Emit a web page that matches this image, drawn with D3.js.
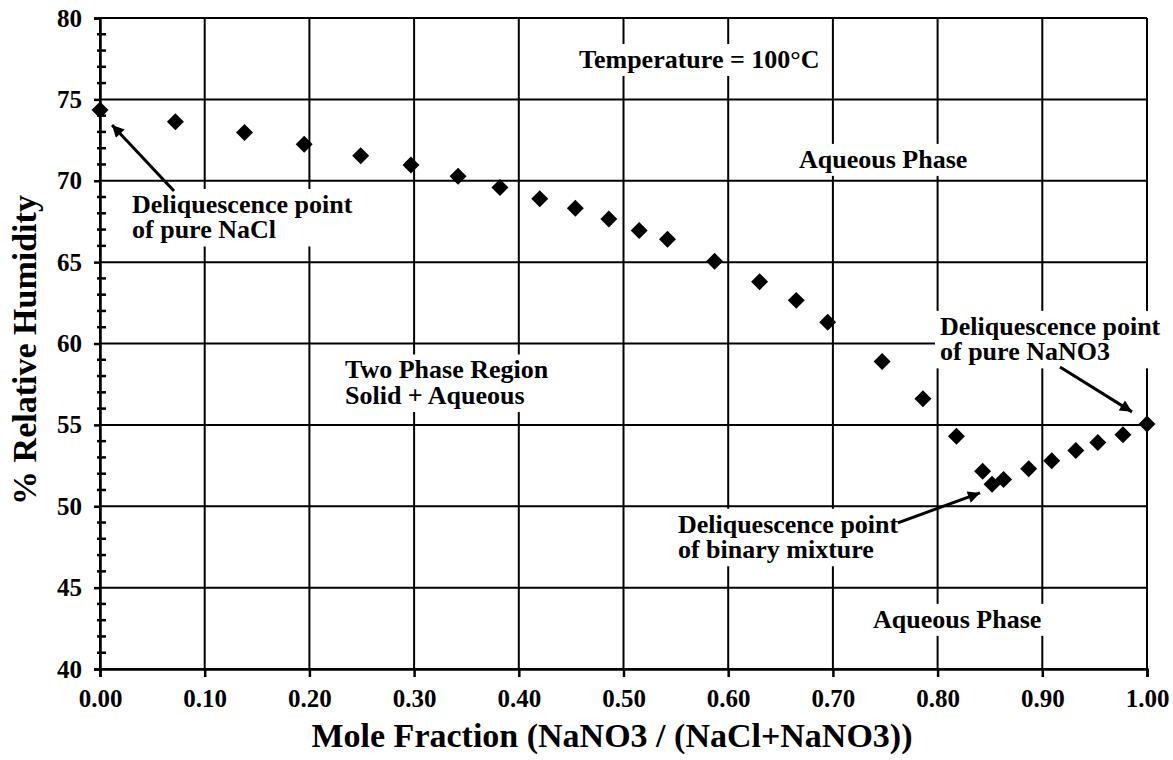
<!DOCTYPE html>
<html><head><meta charset="utf-8">
<script src="https://cdn.jsdelivr.net/npm/d3@7"></script>
<style>
html,body{margin:0;padding:0;background:#fff;}
svg text{font-family:"Liberation Serif","Times New Roman",serif;font-weight:bold;fill:#000;}
</style></head>
<body><svg id="chart" width="1173" height="760"></svg>
<script>
// ---- data ----
const moleFraction = [0.000, 0.072, 0.138, 0.195, 0.249, 0.297, 0.342, 0.382, 0.420, 0.454, 0.486, 0.515, 0.542, 0.587, 0.630, 0.665, 0.695, 0.747, 0.786, 0.818, 0.843, 0.852, 0.863, 0.887, 0.909, 0.932, 0.953, 0.977, 1.000];
const relHumidity  = [74.35, 73.63, 72.96, 72.24, 71.54, 70.97, 70.28, 69.58, 68.90, 68.31, 67.65, 66.94, 66.40, 65.05, 63.80, 62.65, 61.30, 58.90, 56.60, 54.30, 52.15, 51.35, 51.65, 52.30, 52.80, 53.42, 53.92, 54.40, 55.05];
const xTicks = [0, 0.1, 0.2, 0.3, 0.4, 0.5, 0.6, 0.7, 0.8, 0.9, 1.0];
const yTicks = [40, 45, 50, 55, 60, 65, 70, 75, 80];
const yMinorTicks = d3.range(40, 81, 1).filter(v => v % 5 !== 0);
const xTitle = "Mole Fraction (NaNO3 / (NaCl+NaNO3))";
const yTitle = "% Relative Humidity";
const annotations = [
  {lines: ["Temperature = 100°C"], x: 0.4575, y: 76.93},
  {lines: ["Aqueous Phase"], x: 0.6676, y: 70.79},
  {lines: ["Deliquescence point", "of pure NaCl"], x: 0.0306, y: 68.02},
  {lines: ["Two Phase Region", "Solid + Aqueous"], x: 0.234, y: 57.85},
  {lines: ["Deliquescence point", "of pure NaNO3"], x: 0.8023, y: 60.53},
  {lines: ["Deliquescence point", "of binary mixture"], x: 0.552, y: 48.37},
  {lines: ["Aqueous Phase"], x: 0.7383, y: 42.53}
];
const arrows = [
  {from: [0.0707, 69.37], to: [0.0115, 73.43]},
  {from: [0.9169, 58.56], to: [0.9857, 55.8]},
  {from: [0.762, 48.98], to: [0.8405, 50.82]}
];

// ---- layout ----
const svg = d3.select("#chart");
const X0 = 100, X1 = 1147, Y0 = 669, Y1 = 18;
const x = d3.scaleLinear().domain([0, 1]).range([X0, X1]);
const y = d3.scaleLinear().domain([40, 80]).range([Y0, Y1]);

// gridlines
const grid = svg.append("g").attr("stroke", "#000").attr("stroke-width", 2);
grid.selectAll("line.h").data(yTicks).join("line")
  .attr("x1", X0).attr("x2", X1).attr("y1", d => y(d)).attr("y2", d => y(d));
grid.selectAll("line.v").data(xTicks).join("line")
  .attr("y1", Y1).attr("y2", Y0).attr("x1", d => x(d)).attr("x2", d => x(d));

// annotations with white boxes
const ann = svg.append("g");
annotations.forEach(a => {
  const g = ann.append("g");
  const t = g.append("text").attr("font-size", 26);
  a.lines.forEach((l, i) => {
    t.append("tspan").attr("x", x(a.x)).attr("y", y(a.y) + i * 25.5).text(l);
  });
  const bb = t.node().getBBox();
  g.insert("rect", "text").attr("x", bb.x - 5).attr("y", bb.y - 1)
    .attr("width", bb.width + 10).attr("height", bb.height + 3).attr("fill", "#fff");
});

// arrows
const defs = svg.append("defs");
defs.append("marker").attr("id", "ah").attr("viewBox", "0 0 10 10")
  .attr("refX", 10).attr("refY", 5).attr("markerWidth", 17).attr("markerHeight", 12)
  .attr("markerUnits", "userSpaceOnUse").attr("orient", "auto")
  .append("path").attr("d", "M0,0L10,5L0,10z").attr("fill", "#000");
svg.append("g").selectAll("line").data(arrows).join("line")
  .attr("x1", d => x(d.from[0])).attr("y1", d => y(d.from[1]))
  .attr("x2", d => x(d.to[0])).attr("y2", d => y(d.to[1]))
  .attr("stroke", "#000").attr("stroke-width", 3).attr("marker-end", "url(#ah)");

// axes
const xAxis = d3.axisBottom(x).tickValues(xTicks).tickSize(8).tickFormat(d3.format(".2f"));
const gx = svg.append("g").attr("transform", `translate(0,${Y0})`).call(xAxis);
gx.attr("font-family", null).attr("font-size", null);
gx.select(".domain").attr("stroke", "#000").attr("stroke-width", 2.5);
gx.selectAll(".tick line").attr("stroke", "#000").attr("stroke-width", 2.5);
gx.selectAll(".tick text").attr("font-size", 25).attr("y", 20).attr("dy", "0.71em");

const yAxis = d3.axisLeft(y).tickValues(yTicks).tickSize(6).tickPadding(12).tickFormat(d3.format("d"));
const gy = svg.append("g").attr("transform", `translate(${X0},0)`).call(yAxis);
gy.attr("font-family", null).attr("font-size", null);
gy.select(".domain").attr("stroke", "#000").attr("stroke-width", 2.5);
gy.selectAll(".tick line").attr("stroke", "#000").attr("stroke-width", 2.5);
gy.selectAll(".tick text").attr("font-size", 25);

// minor y ticks crossing axis
svg.append("g").selectAll("line").data(yMinorTicks).join("line")
  .attr("x1", X0 - 3).attr("x2", X0 + 6).attr("y1", d => y(d)).attr("y2", d => y(d))
  .attr("stroke", "#000").attr("stroke-width", 2.5);

// points (rotated squares = diamonds)
svg.append("g").selectAll("path").data(moleFraction.map((m, i) => [m, relHumidity[i]])).join("path")
  .attr("d", d3.symbol(d3.symbolSquare, 144))
  .attr("transform", d => `translate(${x(d[0])},${y(d[1])}) rotate(45)`)
  .attr("fill", "#000");

// titles
svg.append("text").attr("x", 612).attr("y", 747).attr("text-anchor", "middle")
  .attr("font-size", 34).text(xTitle);
svg.append("text").attr("transform", `translate(36,350) rotate(-90)`).attr("text-anchor", "middle")
  .attr("font-size", 34).text(yTitle);
</script></body></html>
